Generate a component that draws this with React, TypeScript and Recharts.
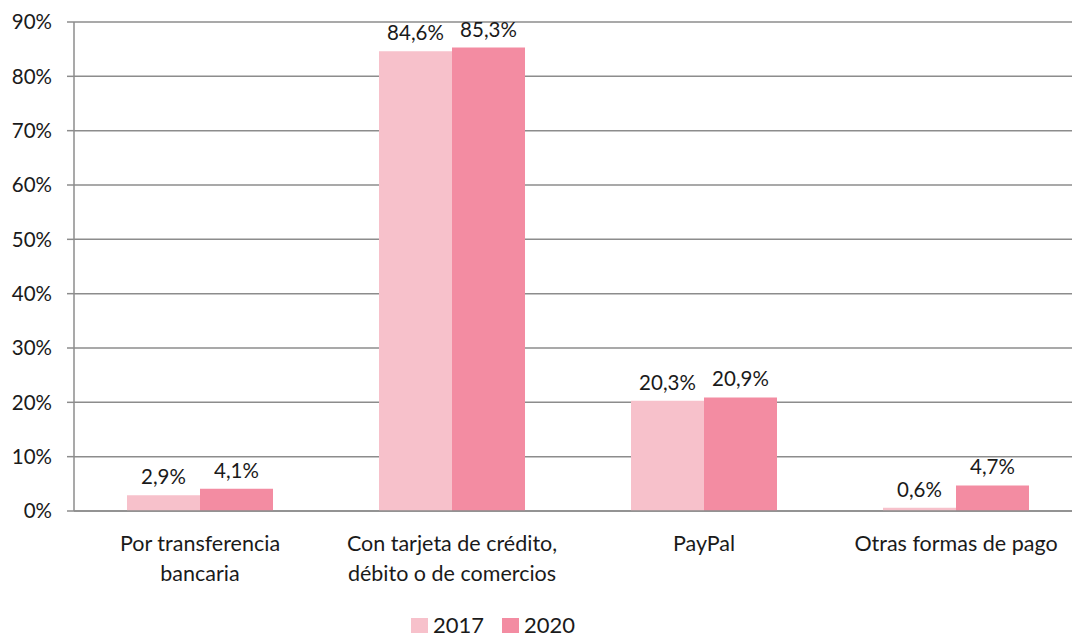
import { Bar, BarChart, CartesianGrid, LabelList, XAxis, YAxis } from 'recharts';

const categories = [
  'Por transferencia\nbancaria',
  'Con tarjeta de crédito,\ndébito o de comercios',
  'PayPal',
  'Otras formas de pago',
];
const values2017 = [2.9, 84.6, 20.3, 0.6];
const values2020 = [4.1, 85.3, 20.9, 4.7];
const yTicks = [0, 10, 20, 30, 40, 50, 60, 70, 80, 90];
const edgeTicks = [0, 1, 2, 3, 4];

const COLOR_2017 = '#f7c1cb';
const COLOR_2020 = '#f38ca2';
const GRID = '#8c8c8c';
const FONT = 'Lato, "Open Sans", sans-serif';

const data = categories.map((name, i) => ({ name, y2017: values2017[i], y2020: values2020[i] }));

const fmt = (v: number) => `${v.toFixed(1).replace('.', ',')}%`;

function CategoryTick({ x, y, payload }: any) {
  const lines = String(payload.value).split('\n');
  return (
    <text x={x} y={y} textAnchor="middle" fontSize={21.5} fill="#1a1a1a" fontFamily={FONT}>
      {lines.map((line, i) => (
        <tspan key={i} x={x} dy={i === 0 ? 32 : 30}>
          {line}
        </tspan>
      ))}
    </text>
  );
}

export default function App() {
  return (
    <div
      style={{
        position: 'absolute',
        left: 0,
        top: 0,
        width: 1072,
        height: 637,
        overflow: 'hidden',
        background: '#fff',
        fontFamily: FONT,
      }}
    >
      <BarChart
        width={1090}
        height={637}
        data={data}
        margin={{ top: 22, right: 8, bottom: 46, left: 0 }}
        barSize={73}
        barGap={0}
      >
        <CartesianGrid vertical={false} stroke={GRID} strokeWidth={1.5} />
        <XAxis
          xAxisId="cat"
          dataKey="name"
          interval={0}
          height={80}
          axisLine={{ stroke: GRID, strokeWidth: 1.5 }}
          tickLine={false}
          tick={<CategoryTick />}
        />
        <XAxis
          xAxisId="edges"
          type="number"
          domain={[0, 4]}
          ticks={edgeTicks}
          height={0}
          axisLine={false}
          tick={false}
          tickSize={7}
          tickLine={{ stroke: GRID, strokeWidth: 1.5 }}
        />
        <YAxis
          domain={[0, 90]}
          ticks={yTicks}
          width={74}
          tickSize={7}
          tickMargin={15}
          axisLine={{ stroke: GRID, strokeWidth: 1.5 }}
          tickLine={{ stroke: GRID, strokeWidth: 1.5 }}
          tick={{ fontSize: 20.5, fill: '#1a1a1a', fontFamily: FONT }}
          tickFormatter={(v: number) => `${v}%`}
        />
        <Bar xAxisId="cat" dataKey="y2017" fill={COLOR_2017} isAnimationActive={false}>
          <LabelList dataKey="y2017" position="top" offset={11} formatter={(v: any) => fmt(Number(v))} style={{ fontSize: 20.5, fill: '#1a1a1a', fontFamily: FONT }} />
        </Bar>
        <Bar xAxisId="cat" dataKey="y2020" fill={COLOR_2020} isAnimationActive={false}>
          <LabelList dataKey="y2020" position="top" offset={11} formatter={(v: any) => fmt(Number(v))} style={{ fontSize: 20.5, fill: '#1a1a1a', fontFamily: FONT }} />
        </Bar>
      </BarChart>
      <div
        style={{
          position: 'absolute',
          top: 614,
          left: 411,
          display: 'flex',
          alignItems: 'center',
          fontSize: 22,
          color: '#1a1a1a',
          lineHeight: '22px',
        }}
      >
        {[
          { label: '2017', color: COLOR_2017 },
          { label: '2020', color: COLOR_2020 },
        ].map((item) => (
          <div key={item.label} style={{ display: 'flex', alignItems: 'center', marginRight: 18 }}>
            <span style={{ width: 17, height: 15, background: item.color, marginRight: 5, display: 'inline-block' }} />
            <span>{item.label}</span>
          </div>
        ))}
      </div>
    </div>
  );
}
